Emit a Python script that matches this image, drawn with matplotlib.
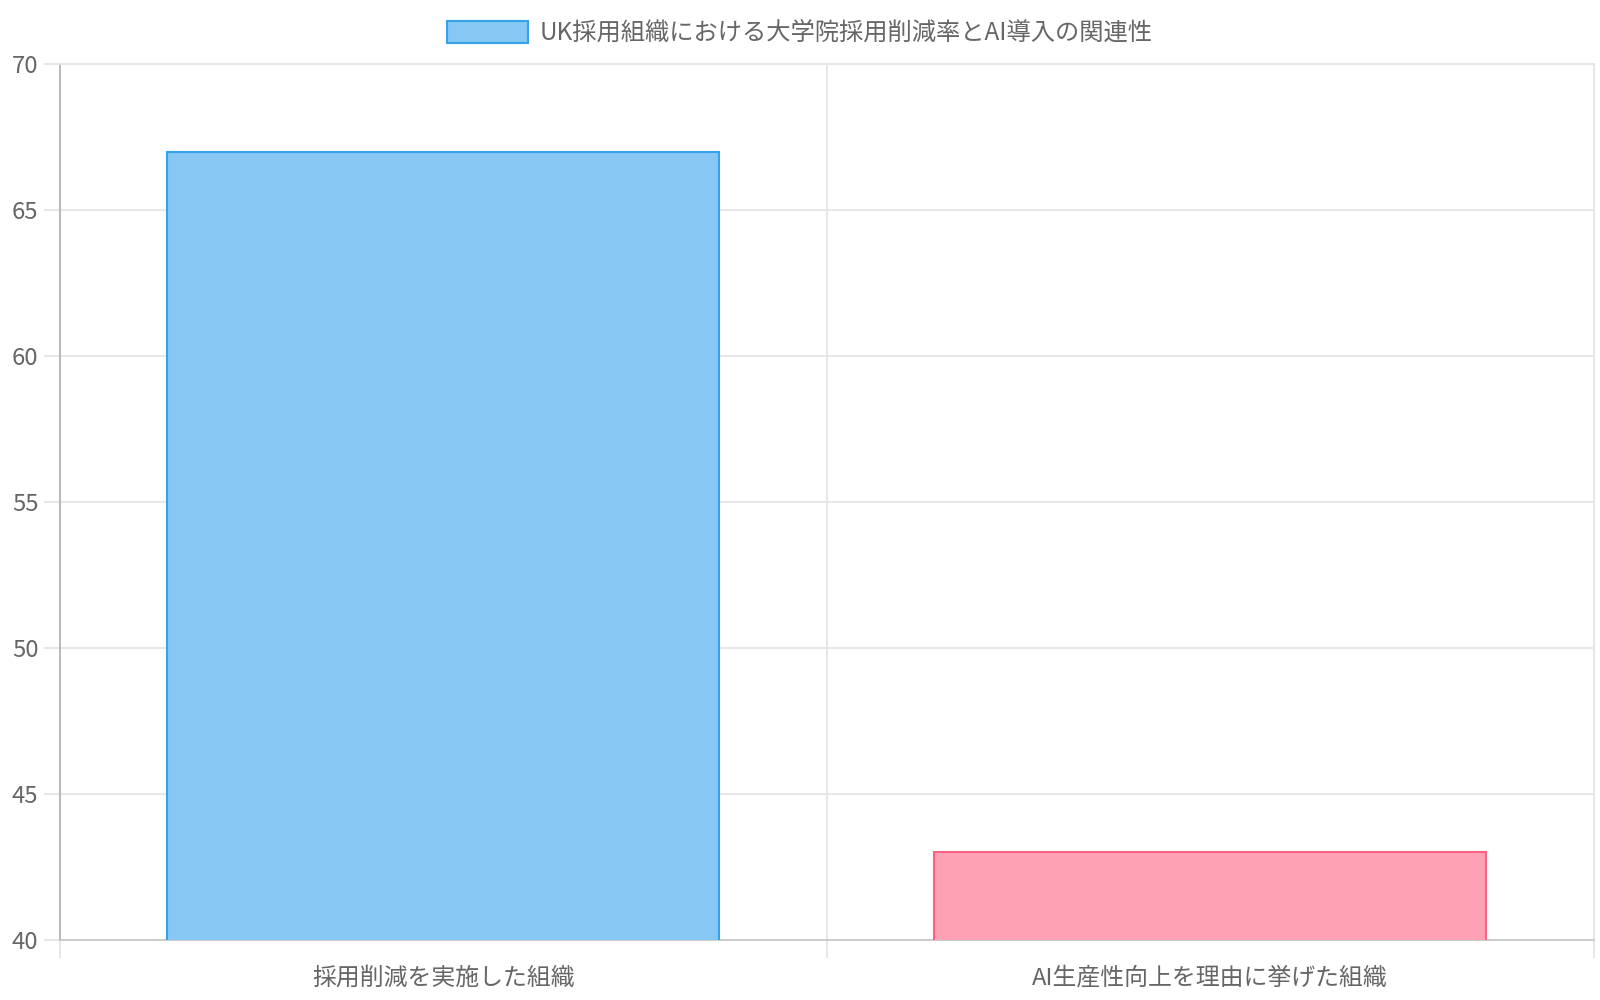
# UK採用組織における大学院採用削減率とAI導入の関連性 — 棒グラフ
import matplotlib
matplotlib.use('Agg')
import matplotlib.pyplot as plt
from matplotlib.patches import Patch

plt.rcParams['font.family'] = ['Noto Sans CJK JP', 'DejaVu Sans']

# データ
categories = ['採用削減を実施した組織', 'AI生産性向上を理由に挙げた組織']
values = [67, 43]
series_label = 'UK採用組織における大学院採用削減率とAI導入の関連性'
y_ticks = [40, 45, 50, 55, 60, 65, 70]

fill_colors = ['#86c7f3', '#ffa1b5']
edge_colors = ['#36a2eb', '#ff6384']
text_color = '#666666'
grid_color = '#e5e5e5'

fig = plt.figure(figsize=(16, 10), dpi=100)
ax = fig.add_axes([0.0375, 0.06, 0.9585, 0.876])

x = list(range(len(categories)))
ax.bar(x, values, width=0.72, bottom=0, color=fill_colors,
       edgecolor=edge_colors, linewidth=1.5, zorder=3)

ax.set_xlim(-0.5, len(categories) - 0.5)
ax.set_ylim(40, 70)
ax.set_yticks(y_ticks)
ax.set_xticks(x)
ax.set_xticklabels(categories)
ax.set_xticks([i - 0.5 for i in range(len(categories) + 1)], minor=True)

# グリッド
ax.grid(axis='y', which='major', color=grid_color, linewidth=1.3, zorder=0)
ax.grid(axis='x', which='minor', color=grid_color, linewidth=1.3, zorder=0)
ax.grid(axis='x', which='major', visible=False)

ax.tick_params(axis='y', length=11.5, width=1.3, color=grid_color, pad=4,
               labelsize=17.2, labelcolor=text_color)
ax.tick_params(axis='x', which='major', length=0, pad=19,
               labelsize=17.2, labelcolor=text_color)
ax.tick_params(axis='x', which='minor', length=13, width=1.3, color=grid_color)

for side in ['top', 'right']:
    ax.spines[side].set_color(grid_color)
    ax.spines[side].set_linewidth(1.3)
ax.spines['left'].set_color('#b3b3b3')
ax.spines['left'].set_linewidth(1.3)
ax.spines['bottom'].set_color('#c8c8c8')
ax.spines['bottom'].set_linewidth(1.3)

# 凡例
handle = Patch(facecolor=fill_colors[0], edgecolor=edge_colors[0], linewidth=1.5)
fig.legend([handle], [series_label], loc='center', bbox_to_anchor=(0.5, 0.967),
           frameon=False, fontsize=17.5, labelcolor=text_color,
           handlelength=3.3, handleheight=1.0, handletextpad=0.5)

fig.savefig('out.png', dpi=100, facecolor='white')
